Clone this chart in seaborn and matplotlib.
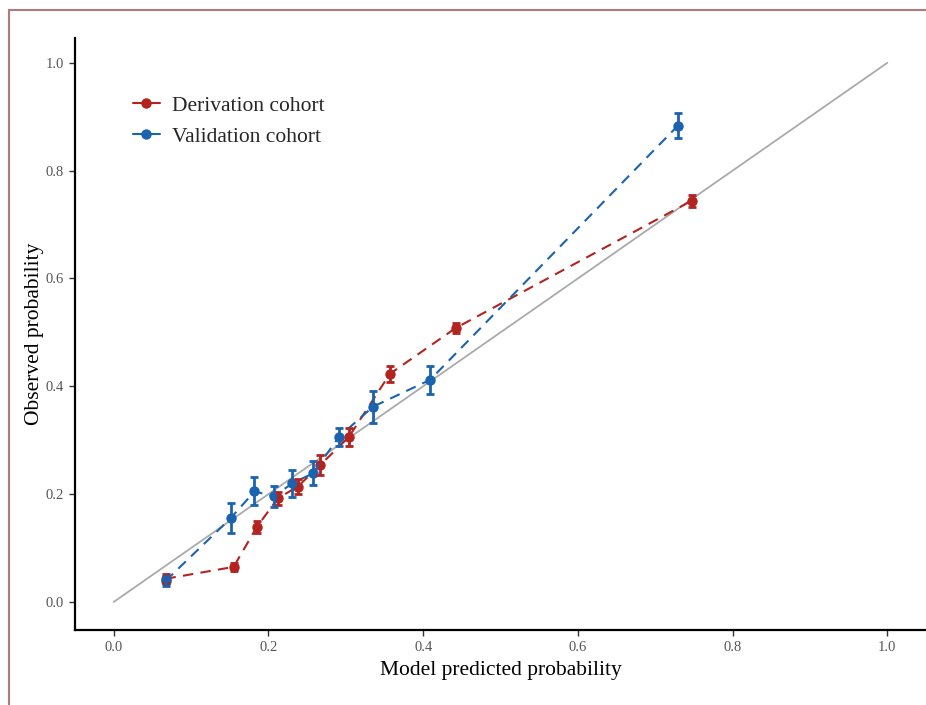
import matplotlib
matplotlib.use("Agg")
import matplotlib.pyplot as plt
import numpy as np
import pandas as pd
import seaborn as sns
from matplotlib.patches import Rectangle

# calibration points
deriv_pred = [0.067, 0.155, 0.185, 0.212, 0.238, 0.267, 0.304, 0.357, 0.442, 0.747]
deriv_obs = [0.043, 0.065, 0.139, 0.192, 0.214, 0.254, 0.306, 0.423, 0.508, 0.744]
deriv_err = [0.008, 0.008, 0.012, 0.012, 0.014, 0.018, 0.016, 0.015, 0.010, 0.011]

valid_pred = [0.067, 0.151, 0.182, 0.207, 0.231, 0.258, 0.291, 0.335, 0.409, 0.729]
valid_obs = [0.039, 0.155, 0.205, 0.196, 0.220, 0.239, 0.306, 0.362, 0.412, 0.883]
valid_err = [0.010, 0.028, 0.026, 0.019, 0.025, 0.022, 0.017, 0.030, 0.026, 0.023]

cohorts = ["Derivation cohort", "Validation cohort"]
colors = {"Derivation cohort": "#B3231F", "Validation cohort": "#1B63AE"}
ticks = [0.0, 0.2, 0.4, 0.6, 0.8, 1.0]

df = pd.DataFrame({
    "pred": deriv_pred + valid_pred,
    "obs": deriv_obs + valid_obs,
    "err": deriv_err + valid_err,
    "cohort": [cohorts[0]] * len(deriv_pred) + [cohorts[1]] * len(valid_pred),
})

sns.set_style("white")
plt.rcParams["font.family"] = ["Liberation Serif", "DejaVu Serif"]

fig = plt.figure(figsize=(9.26, 7.05), dpi=100)
ax = fig.add_axes([75 / 926, 1 - 630 / 705, 1 - 75 / 926, (630 - 38) / 705])

# outer frame
fig.patches.append(Rectangle((9 / 926, -0.05), 1.2, 1 - 10 / 705 + 0.05,
                             transform=fig.transFigure, fill=False,
                             edgecolor="#B07A78", linewidth=1.5, zorder=-1))

ax.plot([0, 1], [0, 1], color="#AAAAAA", lw=1.3, zorder=1)

sns.lineplot(data=df, x="pred", y="obs", hue="cohort", hue_order=cohorts,
             palette=colors, marker="o", markersize=7.5, markeredgewidth=0,
             linewidth=1.5, ax=ax, zorder=3, sort=True)
for line in ax.lines[1:]:
    line.set_linestyle((0, (5, 3.5)))

for c in cohorts:
    sub = df[df.cohort == c]
    ax.errorbar(sub.pred, sub.obs, yerr=sub.err, fmt="none", ecolor=colors[c],
                elinewidth=2, capsize=3, capthick=2, zorder=4)

ax.set_xlim(-0.05, 1.05)
ax.set_ylim(-0.052, 1.046)
ax.set_xticks(ticks)
ax.set_yticks(ticks)
ax.set_xticklabels([f"{t:.1f}" for t in ticks])
ax.set_yticklabels([f"{t:.1f}" for t in ticks])
ax.tick_params(axis="both", which="both", direction="out", length=4, width=1,
               color="#333333", labelcolor="#555555", labelsize=10.5,
               bottom=True, left=True, pad=4)
ax.set_xlabel("Model predicted probability", fontsize=15.5, color="black", labelpad=5)
ax.set_ylabel("Observed probability", fontsize=15.5, color="black", labelpad=1)

sns.despine(ax=ax)
for s in ["left", "bottom"]:
    ax.spines[s].set_linewidth(1.6)
    ax.spines[s].set_color("black")

handles, labels = ax.get_legend_handles_labels()
for h in handles:
    h.set_linestyle("-")
ax.legend(handles, labels, loc="upper left", bbox_to_anchor=(0.045, 0.935),
          frameon=False, fontsize=15.5, handlelength=1.25, handletextpad=0.6,
          labelspacing=0.5, title=None)

fig.savefig("out.png", dpi=100)
